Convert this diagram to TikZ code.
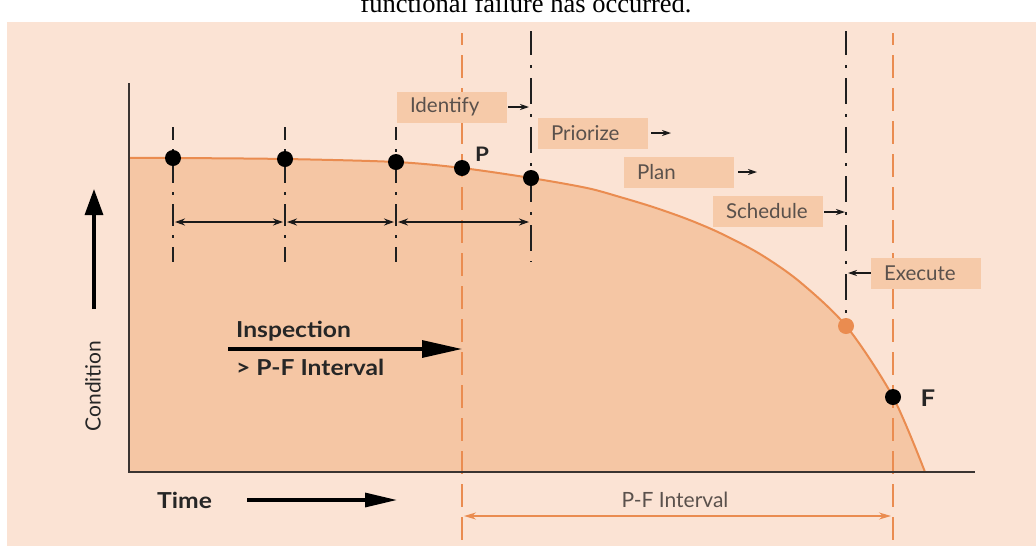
\documentclass[tikz,border=0pt]{standalone}
\usepackage{fontspec}
\setmainfont{Lato}
\newfontfamily\serifx{Liberation Serif}
\usetikzlibrary{arrows.meta}
\definecolor{bgpeach}{HTML}{FBE3D4}
\definecolor{fillpeach}{HTML}{F5C6A4}
\definecolor{curveor}{HTML}{EA8C50}
\definecolor{boxpeach}{HTML}{F6CAA9}
\definecolor{labgray}{HTML}{5A514C}
\definecolor{axisgray}{HTML}{3A3431}
\tikzset{
  ddshort/.style={black!88, line width=2.6pt, dash pattern=on 22pt off 9pt on 3pt off 9pt, dash phase=9pt},
  ddlong/.style={black!88, line width=2.6pt, dash pattern=on 26pt off 10pt on 3pt off 10pt, dash phase=14pt},
  odash/.style={curveor, line width=2.6pt, dash pattern=on 23pt off 10pt, dash phase=11pt},
  bdot/.style={circle, fill=black, inner sep=0pt, minimum size=16pt},
  odot/.style={circle, fill=curveor, inner sep=0pt, minimum size=16pt},
  dimarrow/.style={black!90, line width=1.8pt, {Stealth[length=10pt,width=7pt]}-{Stealth[length=10pt,width=7pt]}},
  labarrow/.style={black!90, line width=1.6pt, -{Stealth[length=9pt,width=6pt]}},
  labbox/.style={fill=boxpeach, text=labgray, font=\fontsize{20.5}{20.5}\selectfont, minimum height=31pt, text width=84pt, inner xsep=13pt, inner ysep=0pt, align=left, anchor=center},
  bigarrow/.style={black, line width=3.2pt},
  bold/.style={font=\bfseries\fontsize{#1}{#1}\selectfont, text=black!85}
}
\newcommand{\wide}[1]{\scalebox{1.12}[1]{#1}}
\begin{document}
\begin{tikzpicture}[x=1pt,y=-1pt]
\useasboundingbox (0,0) rectangle (1036,547);
\clip (0,0) rectangle (1036,547);
\fill[white] (0,0) rectangle (1036,547);
\fill[bgpeach] (7,22) rectangle (1036,546);
\node[font=\serifx\fontsize{26.5}{26.5}\selectfont, anchor=base, inner sep=0pt] (title) at (526,12) {functional failure has occurred.};

% area under curve
\fill[fillpeach] plot[smooth, tension=0.5] coordinates {(129,158) (173,158) (285,159) (396,162) (462,168) (531,178) (587,188) (620,197) (653,207) (687,219) (720,233) (760,254) (800,282) (847,327) (893,397) (925,472)} -- (129,472) -- cycle;
\draw[curveor, line width=2pt] plot[smooth, tension=0.5] coordinates {(129,158) (173,158) (285,159) (396,162) (462,168) (531,178) (587,188) (620,197) (653,207) (687,219) (720,233) (760,254) (800,282) (847,327) (893,397) (925,472)};

% orange dashed verticals
\coordinate (pTop) at (462,33);
\coordinate (pBot) at (462,547);
\coordinate (fTop) at (893,33);
\coordinate (fBot) at (893,547);
\draw[odash] (pTop) -- (pBot);
\draw[odash] (fTop) -- (fBot);

% axes
\coordinate (yTop) at (129,83);
\coordinate (org) at (129,472);
\coordinate (xEnd) at (975,472);
\draw[axisgray, line width=2.2pt] (yTop) -- (org) -- (xEnd);

% dash-dot inspection lines
\coordinate (a1) at (173,127); \coordinate (b1) at (173,262);
\coordinate (a2) at (285,127); \coordinate (b2) at (285,262);
\coordinate (a3) at (396,127); \coordinate (b3) at (396,262);
\coordinate (a4) at (531,31);  \coordinate (b4) at (531,262);
\coordinate (a5) at (846,31);  \coordinate (b5) at (846,320);
\draw[ddshort] (a1) -- (b1);
\draw[ddshort] (a2) -- (b2);
\draw[ddshort] (a3) -- (b3);
\draw[ddlong, dash phase=2pt] (a4) -- (b4);
\draw[ddlong, dash phase=2pt] (a5) -- (b5);

% dimension arrows
\coordinate (t1) at (173,222);
\coordinate (t2) at (285,222);
\coordinate (t3) at (396,222);
\coordinate (t4) at (531,222);
\draw[dimarrow, shorten <=2pt, shorten >=2pt] (t1) -- (t2);
\draw[dimarrow, shorten <=2pt, shorten >=2pt] (t2) -- (t3);
\draw[dimarrow, shorten <=2pt, shorten >=2pt] (t3) -- (t4);

% dots
\node[bdot] (d1) at (173,158) {};
\node[bdot] (d2) at (285,159) {};
\node[bdot] (d3) at (396,162) {};
\node[bdot] (dP) at (462,168) {};
\node[bdot] (d4) at (531,178) {};
\node[odot] (dE) at (846,326) {};
\node[bdot] (dF) at (893,397) {};
\node[bold=20, inner sep=0pt] (lP) at (482,154) {\wide{P}};
\node[bold=23, inner sep=0pt] (lF) at (928,398) {\wide{F}};

% step boxes
\node[labbox] (bId) at (452,107) {Identify};
\node[labbox] (bPr) at (593,133) {Priorize};
\node[labbox] (bPl) at (679,172) {Plan};
\node[labbox] (bSc) at (768,211) {Schedule};
\node[labbox] (bEx) at (926,273) {Execute};
\coordinate (eId) at (529,107);
\coordinate (ePr) at (671,133);
\coordinate (ePl) at (757,172);
\coordinate (eSc) at (845,212);
\coordinate (eEx) at (848,273);
\draw[labarrow] ([xshift=1pt]bId.east) -- (eId);
\draw[labarrow] ([xshift=3pt]bPr.east) -- (ePr);
\draw[labarrow] ([xshift=4pt]bPl.east) -- (ePl);
\draw[labarrow] ([xshift=1pt]bSc.east |- eSc) -- (eSc);
\draw[labarrow] (bEx.west) -- (eEx);

% inspection arrow
\node[bold=22, anchor=west, inner sep=0pt] (ins) at (236,331) {\wide{Inspection}};
\node[bold=22, anchor=west, inner sep=0pt] (pfi) at (236,367) {\wide{> P-F Interval}};
\coordinate (iS) at (228,349);
\coordinate (iE) at (462,349);
\draw[bigarrow, -{Triangle[length=40pt,width=17pt]}] (iS) -- (iE);

% time arrow
\node[bold=22, anchor=west, inner sep=0pt] (time) at (157,500) {\wide{Time}};
\coordinate (tS) at (247,500);
\coordinate (tE) at (397,500);
\draw[bigarrow, -{Triangle[length=32pt,width=14pt]}] (tS) -- (tE);

% condition arrow
\node[font=\fontsize{21}{21}\selectfont, text=black!85, rotate=90, inner sep=0pt] (cond) at (93,386) {Condition};
\coordinate (cS) at (94,309);
\coordinate (cE) at (94,189);
\draw[bigarrow, -{Triangle[length=26pt,width=18pt]}] (cS) -- (cE);

% P-F interval
\node[font=\fontsize{21}{21}\selectfont, text=labgray, inner sep=0pt] (pfl) at (675,500) {P-F Interval};
\coordinate (pfL) at (464,516);
\coordinate (pfR) at (891,516);
\draw[curveor, line width=1.5pt, {Stealth[length=12pt,width=7pt]}-{Stealth[length=12pt,width=7pt]}] (pfL) -- (pfR);
\end{tikzpicture}
\end{document}
